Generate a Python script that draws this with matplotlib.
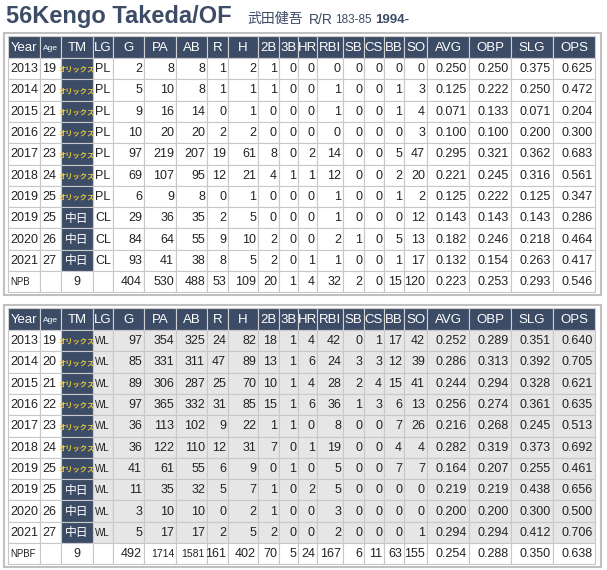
import matplotlib
matplotlib.use("Agg")
import matplotlib.pyplot as plt
from matplotlib.patches import Rectangle

headers = ["Year","Age","TM","LG","G","PA","AB","R","H","2B","3B","HR","RBI","SB","CS","BB","SO","AVG","OBP","SLG","OPS"]
years = ["2013","2014","2015","2016","2017","2018","2019","2019","2020","2021"]
ages = ["19","20","21","22","23","24","25","25","26","27"]
teams = ["オリックス"]*7 + ["中日"]*3
lg1 = ["PL"]*7 + ["CL"]*3
stats1 = [
 [2,8,8,1,2,1,0,0,0,0,0,0,0,"0.250","0.250","0.375","0.625"],
 [5,10,8,1,1,1,0,0,1,0,0,1,3,"0.125","0.222","0.250","0.472"],
 [9,16,14,0,1,0,0,0,1,0,0,1,4,"0.071","0.133","0.071","0.204"],
 [10,20,20,2,2,0,0,0,0,0,0,0,3,"0.100","0.100","0.200","0.300"],
 [97,219,207,19,61,8,0,2,14,0,0,5,47,"0.295","0.321","0.362","0.683"],
 [69,107,95,12,21,4,1,1,12,0,0,2,20,"0.221","0.245","0.316","0.561"],
 [6,9,8,0,1,0,0,0,1,0,0,1,2,"0.125","0.222","0.125","0.347"],
 [29,36,35,2,5,0,0,0,1,0,0,0,12,"0.143","0.143","0.143","0.286"],
 [84,64,55,9,10,2,0,0,2,1,0,5,13,"0.182","0.246","0.218","0.464"],
 [93,41,38,8,5,2,0,1,1,0,0,1,17,"0.132","0.154","0.263","0.417"],
]
total1 = ["NPB","","9","",404,530,488,53,109,20,1,4,32,2,0,15,120,"0.223","0.253","0.293","0.546"]
lg2 = ["WL"]*10
stats2 = [
 [97,354,325,24,82,18,1,4,42,0,1,17,42,"0.252","0.289","0.351","0.640"],
 [85,331,311,47,89,13,1,6,24,3,3,12,39,"0.286","0.313","0.392","0.705"],
 [89,306,287,25,70,10,1,4,28,2,4,15,41,"0.244","0.294","0.328","0.621"],
 [97,365,332,31,85,15,1,6,36,1,3,6,13,"0.256","0.274","0.361","0.635"],
 [36,113,102,9,22,1,1,0,8,0,0,7,26,"0.216","0.268","0.245","0.513"],
 [36,122,110,12,31,7,0,1,19,0,0,4,4,"0.282","0.319","0.373","0.692"],
 [41,61,55,6,9,0,1,0,5,0,0,7,7,"0.164","0.207","0.255","0.461"],
 [11,35,32,5,7,1,0,2,5,0,0,0,0,"0.219","0.219","0.438","0.656"],
 [3,10,10,0,2,1,0,0,3,0,0,0,0,"0.200","0.200","0.300","0.500"],
 [5,17,17,2,5,2,0,0,2,0,0,0,1,"0.294","0.294","0.412","0.706"],
]
total2 = ["NPBF","","9","",492,1714,1581,161,402,70,5,24,167,6,11,63,155,"0.254","0.288","0.350","0.638"]

W, H = 607, 570
fig = plt.figure(figsize=(W/100, H/100), dpi=100)
ax = fig.add_axes([0, 0, 1, 1])
ax.set_xlim(0, W); ax.set_ylim(H, 0); ax.axis("off")

edges = [8,40,61,93,113,144,176,207,228,258,279,298,317,343,364,384,404,427,469,511,553,595]
NAVY = "#3d4c66"
GRID = "#c8c8c8"
FONT = "DejaVu Sans"
JP = "Noto Sans CJK JP"

ax.text(6, 17, "56Kengo Takeda/OF", fontsize=17, fontweight="bold", color="#3d4c66", va="center", ha="left", family="Liberation Sans")
ax.text(247, 19, "武田健吾", fontsize=10, color="#3d4c66", va="center", family=JP)
ax.text(309, 20, "R/R", fontsize=10, color="#3d4c66", va="center", family="Liberation Sans")
ax.text(335, 20, "183-85", fontsize=8.5, color="#3d4c66", va="center", family="Liberation Sans")
ax.text(375, 20, "1994-", fontsize=9.5, color="#3d4c66", va="center", fontweight="bold", family="Liberation Sans")

def draw_table(y0, lgs, stats, total, shaded):
    hh = 22
    rh = 21.3
    ax.add_patch(Rectangle((4, y0-3), W-10, hh + 11*rh + 6, fc="none", ec="#c0c0c0", lw=1.5))
    for i in range(21):
        x0, x1 = edges[i], edges[i+1]
        ax.add_patch(Rectangle((x0, y0), x1-x0, hh, fc=NAVY, ec="#d0d0d0", lw=0.8))
        fs = 6 if headers[i] == "Age" else 9.5
        ax.text((x0+x1)/2, y0+hh/2+1, headers[i], color="white", fontsize=fs, ha="center", va="center", family="Liberation Sans")
    rows = []
    for r in range(10):
        rows.append([years[r], ages[r], teams[r], lgs[r]] + stats[r])
    rows.append(total)
    for r, row in enumerate(rows):
        y = y0 + hh + r*rh
        for i in range(21):
            x0, x1 = edges[i], edges[i+1]
            fc = "white"
            if shaded and r < 10 and i >= 3:
                fc = "#e6e6e6"
            if i == 2 and r < 10:
                fc = NAVY
            ax.add_patch(Rectangle((x0, y), x1-x0, rh, fc=fc, ec=GRID, lw=0.8))
            txt = str(row[i])
            cy = y + rh/2 + 0.5
            if i == 2 and r < 10:
                if txt == "中日":
                    ax.text((x0+x1)/2, cy, txt, color="white", fontsize=8.5, ha="center", va="center", family=JP)
                else:
                    ax.text((x0+x1)/2, cy, txt, color="#e8c840", fontsize=5.2, ha="center", va="center", family=JP, fontweight="bold")
            elif i in (0, 1) or (i == 3 and not (shaded)):
                fs = 7 if (r == 10 and i == 0) else 9
                ax.text(x0+2, cy, txt, color="#222222", fontsize=fs, ha="left", va="center", family="Liberation Sans")
            elif i == 3:
                ax.text(x0+2, cy, txt, color="#222222", fontsize=7, ha="left", va="center", family="Liberation Sans")
            elif i == 2:
                ax.text((x0+x1)/2, cy, txt, color="#222222", fontsize=9, ha="center", va="center", family="Liberation Sans")
            else:
                fs = 9
                if r == 10 and shaded and len(txt) >= 4 and i < 17:
                    fs = 7.5
                ax.text(x1-2, cy, txt, color="#222222", fontsize=fs, ha="right", va="center", family="Liberation Sans")

draw_table(36, lg1, stats1, total1, False)
draw_table(308, lg2, stats2, total2, True)

fig.savefig("out.png", dpi=100)
